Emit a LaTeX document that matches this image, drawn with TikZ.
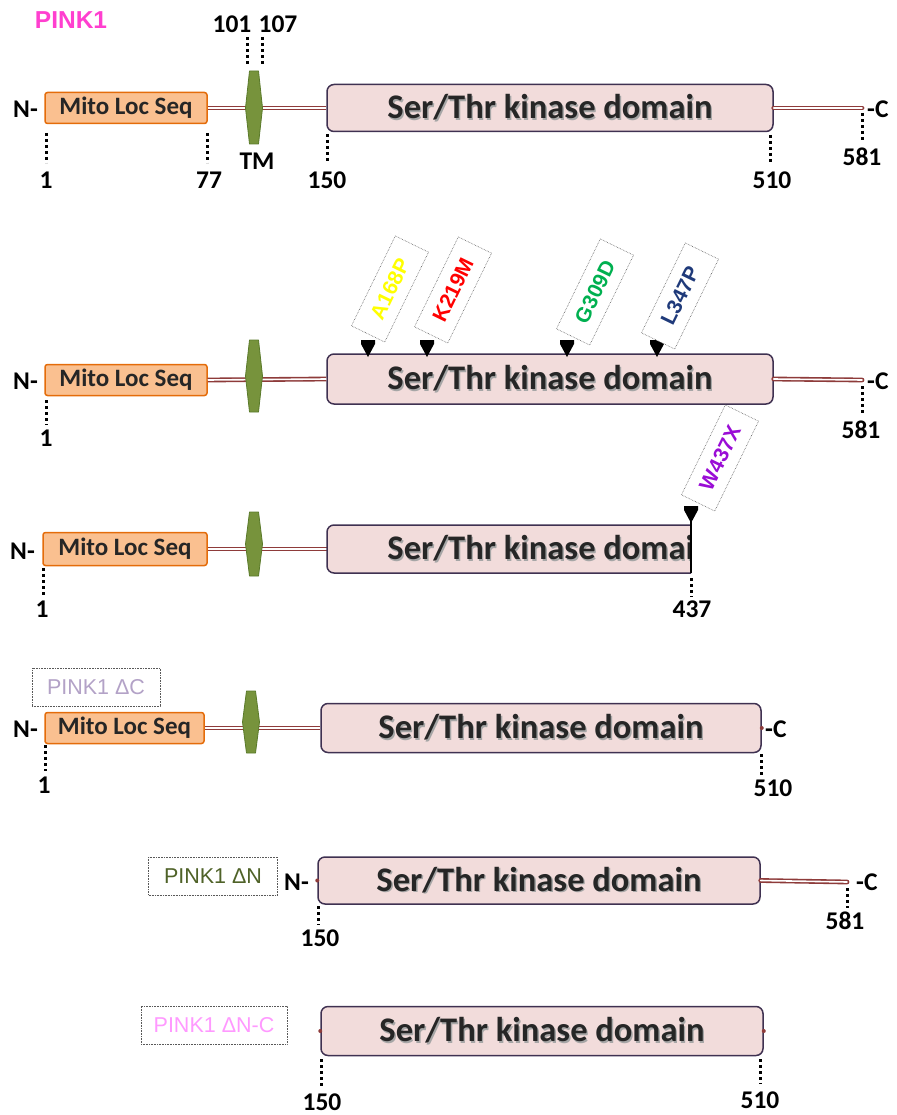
\documentclass[tikz,border=0pt]{standalone}
\usepackage{fontspec}
\setmainfont{Carlito}
\newfontfamily\arialf{Liberation Sans}
\usetikzlibrary{calc}
\definecolor{mitoF}{HTML}{FAC090}
\definecolor{mitoB}{HTML}{E46C0A}
\definecolor{kinF}{HTML}{F2DCDB}
\definecolor{kinB}{HTML}{3F3151}
\definecolor{tmF}{HTML}{77933C}
\definecolor{tmB}{HTML}{5A7A2A}
\definecolor{linkC}{HTML}{8E3B3A}
\definecolor{txtC}{HTML}{262626}
\definecolor{pinkT}{HTML}{FF3FCF}
\definecolor{mutA}{HTML}{FFFF00}
\definecolor{mutK}{HTML}{FF0000}
\definecolor{mutG}{HTML}{00B050}
\definecolor{mutL}{HTML}{1F3A7A}
\definecolor{mutW}{HTML}{9A0CD6}
\definecolor{dC}{HTML}{B3A2C7}
\definecolor{dN}{HTML}{4F6228}
\definecolor{dNC}{HTML}{FF99FF}
\newcommand\kintxt{\makebox[0pt][l]{\kern1.4pt\raisebox{-1.4pt}{\textcolor{black!35}{Ser/Thr kinase domain}}}Ser/Thr kinase domain}
\newcommand\tmshape[4]{\filldraw[fill=tmF,draw=tmB,line width=0.8pt,line join=round] (#1-4.5,#2) -- (#1+4.5,#2) -- (#1+8.5,#3) -- (#1+4.5,#4) -- (#1-4.5,#4) -- (#1-8.5,#3) -- cycle;}
\newcommand\mutmark[2]{\fill[black] (#1-7,#2) -- (#1+7,#2) -- (#1+7,#2+4) -- (#1,#2+17) -- (#1-7,#2+4) -- cycle;}
\begin{document}
\begin{tikzpicture}[x=1pt,y=-1pt,
  mito/.style={draw=mitoB,fill=mitoF,line width=1.5pt,rounded corners=2.5pt,minimum height=31pt,inner sep=0pt,font=\fontsize{25}{25}\selectfont\bfseries,text=txtC},
  kin/.style={draw=kinB,fill=kinF,line width=1.5pt,rounded corners=7pt,minimum height=47pt,inner sep=0pt,font=\fontsize{34.5}{34.5}\selectfont\bfseries,text=txtC},
  linker/.style={draw=linkC,line width=1.6pt,double=white,double distance=1.6pt},
  tick/.style={line width=3pt,dash pattern=on 3pt off 3pt},
  num/.style={font=\fontsize{25.5}{25.5}\selectfont\bfseries,text=black,inner sep=0pt},
  tag/.style={draw=black!65,densely dotted,line width=0.6pt,fill=white,rotate=64,minimum width=100pt,minimum height=37pt,inner sep=0pt,font=\arialf\fontsize{21}{21}\selectfont\bfseries},
  vlabel/.style={draw=black!65,densely dotted,line width=0.6pt,fill=white,minimum height=38pt,inner sep=0pt,font=\arialf\fontsize{21.5}{21.5}\selectfont},
  dotc/.style={fill=linkC}]
\useasboundingbox (0,0) rectangle (896,1115);

% ===== Row 1 =====
\node[font=\arialf\fontsize{24.5}{24.5}\selectfont\bfseries,text=pinkT] (title) at (71,20) {PINK1};
\node[mito,minimum width=162pt] (m1) at (126,108) {Mito Loc Seq};
\node[kin,minimum width=446pt] (k1) at (550,108) {\kintxt};
\coordinate (c1) at (862,108);
\draw[linker] (m1.east) -- (k1.west);
\draw[linker,line cap=round] (k1.east) -- (c1);
\tmshape{254}{71}{108}{144}
\node[num,anchor=east] (nt1) at (38,109) {N-};
\node[num,anchor=west] (ct1) at (867,109) {-C};
\node[num] (tm1) at (257,161) {TM};
\node[num] (p101) at (232,24) {101};
\node[num] (p107) at (278,24) {107};
\draw[tick] (247,37) -- (247,64);
\draw[tick] (262,37) -- (262,64);
\node[num] (a1) at (46,180) {1};
\node[num] (a77) at (209,180) {77};
\node[num] (a150) at (327,180) {150};
\node[num] (a510) at (772,180) {510};
\node[num] (a581) at (862,157) {581};
\draw[tick] (46,133) -- (46,163);
\draw[tick] (207,133) -- (207,163);
\draw[tick] (327,134) -- (327,163);
\draw[tick] (770,135) -- (770,163);
\draw[tick] (862,113) -- (862,142);

% ===== Row 2 =====
\node[mito,minimum width=162pt] (m2) at (126,380) {Mito Loc Seq};
\node[kin,minimum width=446pt,minimum height=50pt] (k2) at (550,379) {\kintxt};
\coordinate (c2) at (862,380);
\draw[linker] (m2.east) -- (k2.west);
\draw[linker,line cap=round] (k2.east) -- (c2);
\tmshape{254}{340}{376}{412}
\node[num,anchor=east] (nt2) at (38,381) {N-};
\node[num,anchor=west] (ct2) at (867,381) {-C};
\node[num] (b1) at (46,438) {1};
\node[num] (b581) at (861,430) {581};
\draw[tick] (46,400) -- (46,425);
\draw[tick] (862,386) -- (862,413);
\mutmark{368}{340}
\mutmark{427}{340}
\mutmark{567}{340}
\mutmark{657}{340}
\node[tag,text=mutA] (tA) at (390,289) {A168P};
\node[tag,text=mutK] (tK) at (453,290) {K219M};
\node[tag,text=mutG] (tG) at (595,292) {G309D};
\node[tag,text=mutL] (tL) at (680,296) {L347P};

% ===== Row 3 =====
\node[mito,minimum width=164pt,minimum height=33pt] (m3) at (125,549) {Mito Loc Seq};
\draw[linker] (m3.east) -- (327,549);
\begin{scope}
  \clip (300,500) rectangle (691,600);
  \node[kin,minimum width=446pt,minimum height=48pt] (k3) at (550,549) {\kintxt};
\end{scope}
\tmshape{254}{512}{544}{576}
\draw[line width=1.6pt] (691,515) -- (691,573);
\mutmark{691}{506}
\node[tag,text=mutW] (tW) at (720,458) {W437X};
\node[num,anchor=east] (nt3) at (35,551) {N-};
\node[num] (c437) at (692,609) {437};
\node[num] (c1l) at (42,609) {1};
\draw[tick] (691,578) -- (691,597);
\draw[tick] (43,568) -- (43,595);

% ===== Row 4 =====
\node[vlabel,minimum width=128pt,text=dC] (lC) at (96,687) {PINK1 ΔC};
\node[mito,minimum width=159pt] (m4) at (124.5,728) {Mito Loc Seq};
\node[kin,minimum width=440pt,minimum height=49pt] (k4) at (541,728) {\kintxt};
\draw[linker] (m4.east) -- (k4.west);
\tmshape{251}{691}{722}{753}
\fill[dotc] (k4.east) circle (2pt);
\node[num,anchor=east] (nt4) at (38,729) {N-};
\node[num,anchor=west] (ct4) at (765,729) {-C};
\node[num] (d1) at (44,785) {1};
\node[num] (d510) at (773,788) {510};
\draw[tick] (45,745) -- (45,771);
\draw[tick] (761,754) -- (761,776);

% ===== Row 5 =====
\node[vlabel,minimum width=129pt,text=dN] (lN) at (213,876) {PINK1 ΔN};
\node[kin,minimum width=442pt] (k5) at (539,880.5) {\kintxt};
\coordinate (c5) at (847,882);
\draw[linker,line cap=round] (k5.east) -- (c5);
\fill[dotc] (k5.west) circle (2pt);
\node[num,anchor=east] (nt5) at (309,882) {N-};
\node[num,anchor=west] (ct5) at (856,882) {-C};
\node[num] (e150) at (320,938) {150};
\node[num] (e581) at (845,921) {581};
\draw[tick] (318,906) -- (318,925);
\draw[tick] (847,888) -- (847,908);

% ===== Row 6 =====
\node[vlabel,minimum width=146pt,text=dNC] (lNC) at (214,1025) {PINK1 ΔN-C};
\node[kin,minimum width=442pt,minimum height=49pt] (k6) at (542,1031) {\kintxt};
\fill[dotc] (k6.west) circle (2pt);
\fill[dotc] (k6.east) circle (2pt);
\node[num] (f150) at (322,1102) {150};
\node[num] (f510) at (760,1100) {510};
\draw[tick] (321,1059) -- (321,1087);
\draw[tick] (760,1059) -- (760,1084);
\end{tikzpicture}
\end{document}
